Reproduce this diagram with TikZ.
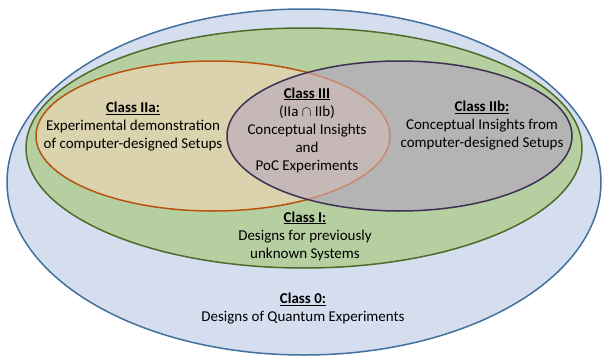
\documentclass[tikz,border=0pt]{standalone}
\usepackage{fontspec}
\setmainfont{Carlito}
\usepackage{tikz}
\usetikzlibrary{positioning}

\definecolor{zerofill}{HTML}{D4DEEF}
\definecolor{zeroline}{HTML}{41719C}
\definecolor{onefill}{HTML}{B6CFA1}
\definecolor{oneline}{HTML}{4E6B2A}
\definecolor{twoafill}{HTML}{DAD3AE}
\definecolor{twoaline}{HTML}{B8520F}
\definecolor{twoalight}{HTML}{C98872}
\definecolor{twobfill}{HTML}{B4B4B4}
\definecolor{twobline}{HTML}{3E3055}
\definecolor{threefill}{HTML}{C7B8B8}

\newcommand{\classhead}[1]{\underline{\textbf{#1}}}

\begin{document}
\begin{tikzpicture}[x=1pt,y=-1pt,
    setline/.style={line width=1.5pt},
    label/.style={align=center,inner sep=0pt,font=\fontsize{15}{18}\selectfont}]
  \useasboundingbox (0,0) rectangle (603,356);
  % sets
  \coordinate (c0) at (304,182);
  \coordinate (c1) at (304,148);
  \coordinate (c2a) at (213,136);
  \coordinate (c2b) at (399.5,136);
  \filldraw[setline,draw=zeroline,fill=zerofill] (c0) ellipse [x radius=297,y radius=173];
  \filldraw[setline,draw=oneline,fill=onefill] (c1) ellipse [x radius=278,y radius=120];
  \filldraw[setline,draw=twoaline,fill=twoafill] (c2a) ellipse [x radius=177,y radius=75];
  \fill[twobfill] (c2b) ellipse [x radius=172.5,y radius=75];
  \begin{scope}
    \clip (c2a) ellipse [x radius=177,y radius=75];
    \fill[threefill] (c2b) ellipse [x radius=172.5,y radius=75];
  \end{scope}
  \begin{scope}
    \clip (c2b) ellipse [x radius=172.5,y radius=75];
    \draw[setline,twoalight] (c2a) ellipse [x radius=177,y radius=75];
  \end{scope}
  \draw[setline,twobline] (c2b) ellipse [x radius=172.5,y radius=75];
  % labels
  \node[label] (classIIa) at (133,127) {\classhead{Class IIa:}\\Experimental demonstration\\of computer-designed Setups};
  \node[label] (classIIb) at (482,126) {\classhead{Class IIb:}\\Conceptual Insights from\\computer-designed Setups};
  \node[label] (classIII) at (307,130) {\classhead{Class III}\\(IIa $\cap$ IIb)\\Conceptual Insights\\and\\PoC Experiments};
  \node[label] (classI) at (305,236) {\classhead{Class I:}\\Designs for previously\\unknown Systems};
  \node[label] (class0) at (303,308.5) {\classhead{Class 0:}\\Designs of Quantum Experiments};
\end{tikzpicture}
\end{document}
